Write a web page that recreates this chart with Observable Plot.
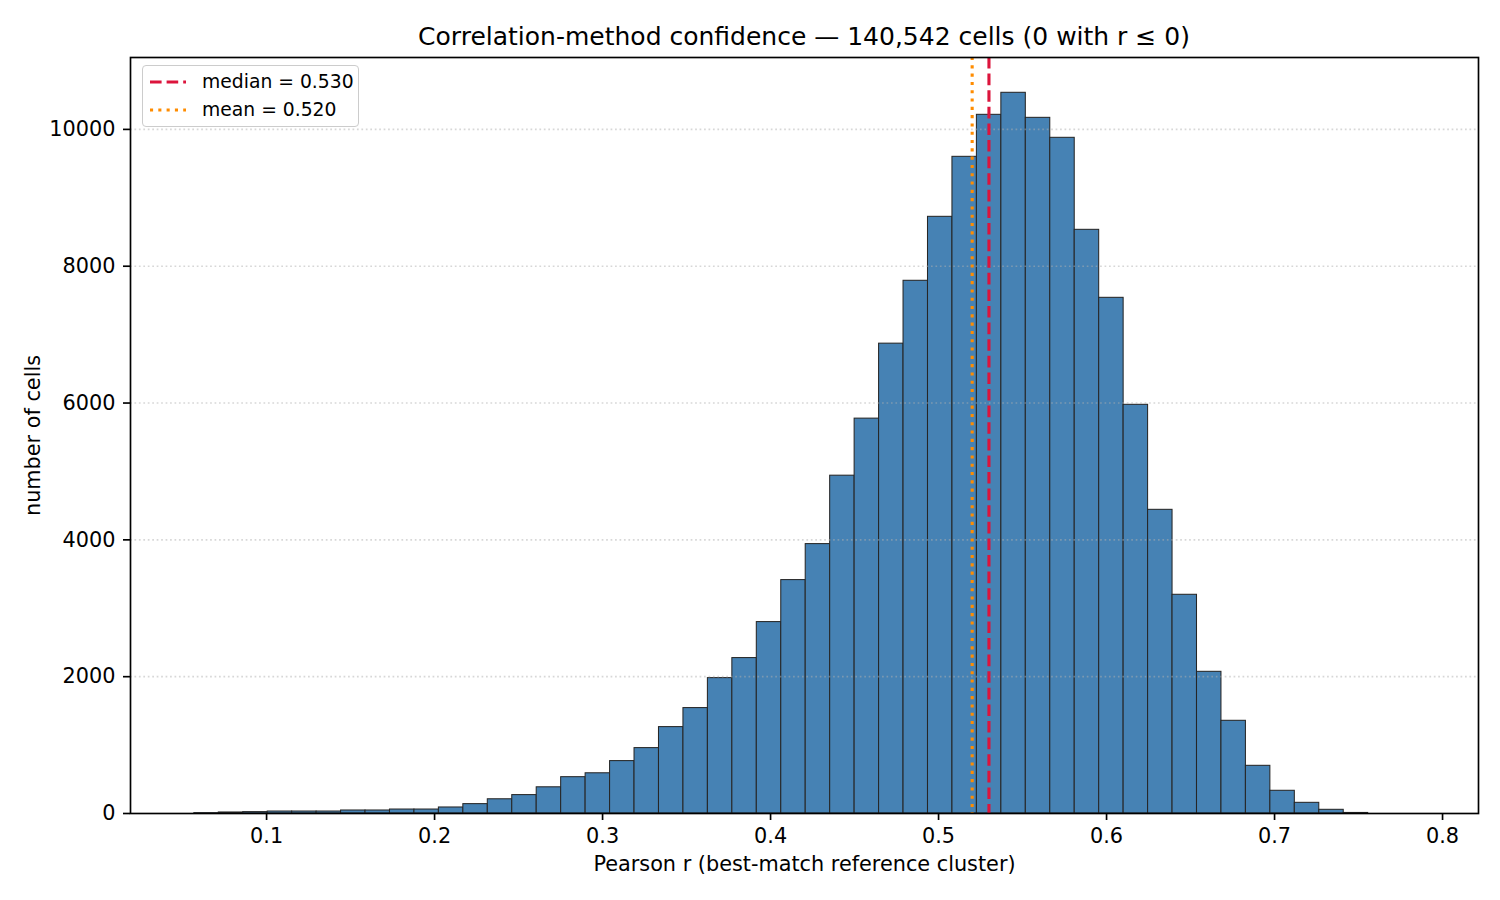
<!DOCTYPE html>
<html>
<head>
<meta charset="utf-8">
<script src="https://cdn.jsdelivr.net/npm/d3@7"></script>
<script src="https://cdn.jsdelivr.net/npm/@observablehq/plot@0.6"></script>
<style>
  html, body { margin: 0; padding: 0; background: white; }
  #wrap { position: relative; width: 1500px; height: 900px; font-family: "DejaVu Sans", sans-serif; color: black; }
  #title { position: absolute; left: 130px; width: 1348px; top: 21px; text-align: center; font-size: 25px; line-height: 32px; white-space: nowrap; }
  #legend { position: absolute; left: 142px; top: 65px; width: 217px; height: 62px; box-sizing: border-box;
            background: rgba(255,255,255,0.8); border: 1.2px solid #cccccc; border-radius: 4px; font-size: 18.75px; }
  .lg-row { position: absolute; left: 0; height: 24px; display: flex; align-items: center; }
  .lg-row svg { margin-left: 6px; }
  .lg-row span { margin-left: 15px; line-height: 24px; }
</style>
</head>
<body>
<div id="wrap">
  <div id="chart"></div>
  <div id="title"></div>
  <div id="legend"></div>
</div>
<script>
// ---- data ----
const binStart = 0.0570;          // left edge of first bin (Pearson r)
const binWidth = 0.014557;        // bin width
const counts = [5, 15, 20, 29, 29, 29, 44, 44, 58, 58, 88, 137,
  208, 269, 383, 531, 588, 766, 956, 1263, 1541, 1979, 2272, 2798, 3412, 3938, 4938, 5772, 6868,
  7787, 8722, 9599, 10213, 10535, 10169, 9877, 8532, 7538,
  5974, 4439, 3197, 2071, 1355, 697, 332, 156, 54, 8];
const medianValue = 0.530;
const meanValue = 0.520;
const xTicks = [0.1, 0.2, 0.3, 0.4, 0.5, 0.6, 0.7, 0.8];
const yTicks = [0, 2000, 4000, 6000, 8000, 10000];
const xDomain = [0.0190, 0.8214];
const yDomain = [0, 11051];
const titleText = "Correlation-method confidence — 140,542 cells (0 with r ≤ 0)";
const xLabel = "Pearson r (best-match reference cluster)";
const yLabel = "number of cells";
const legendItems = [
  {label: "median = 0.530", color: "crimson", dash: "11.6,5"},
  {label: "mean = 0.520", color: "darkorange", dash: "3.1,5.2"}
];

const bins = counts.map((c, i) => ({x1: binStart + i * binWidth, x2: binStart + (i + 1) * binWidth, count: c}));

const chart = Plot.plot({
  width: 1500,
  height: 900,
  marginLeft: 130,
  marginRight: 22,
  marginTop: 57,
  marginBottom: 87,
  style: {fontFamily: "DejaVu Sans, sans-serif", fontSize: "20.8px", color: "black", background: "white"},
  x: {domain: xDomain},
  y: {domain: yDomain},
  marks: [
    Plot.rectY(bins, {x1: "x1", x2: "x2", y: "count", fill: "steelblue", stroke: "#262626", strokeWidth: 1.04}),
    Plot.gridY(yTicks.filter(d => d > 0), {stroke: "#b0b0b0", strokeOpacity: 0.5, strokeWidth: 1.67, strokeDasharray: "1.7,2.75"}),
    Plot.ruleX([meanValue], {stroke: "darkorange", strokeWidth: 3.1, strokeDasharray: "3.1,5.2"}),
    Plot.ruleX([medianValue], {stroke: "crimson", strokeWidth: 3.1, strokeDasharray: "11.6,5"}),
    Plot.axisX({ticks: xTicks, tickFormat: d3.format(".1f"), tickSize: 7, tickPadding: 8, strokeWidth: 1.67,
      label: xLabel, labelAnchor: "center", labelArrow: "none", labelOffset: 57, fontSize: 20.8}),
    Plot.axisY({ticks: yTicks, tickFormat: d => String(d), tickSize: 7, tickPadding: 8, strokeWidth: 1.67,
      label: yLabel, labelAnchor: "center", labelArrow: "none", labelOffset: 105, fontSize: 20.8}),
    Plot.frame({stroke: "black", strokeWidth: 1.67})
  ]
});
document.getElementById("chart").appendChild(chart);
document.getElementById("title").textContent = titleText;

const legend = document.getElementById("legend");
legendItems.forEach((item, i) => {
  const row = document.createElement("div");
  row.className = "lg-row";
  row.style.top = (4 + i * 28) + "px";
  row.innerHTML = `<svg width="38" height="10"><line x1="1" y1="5" x2="37" y2="5" stroke="${item.color}" stroke-width="3.1" stroke-dasharray="${item.dash}"/></svg><span>${item.label}</span>`;
  legend.appendChild(row);
});
</script>
</body>
</html>
